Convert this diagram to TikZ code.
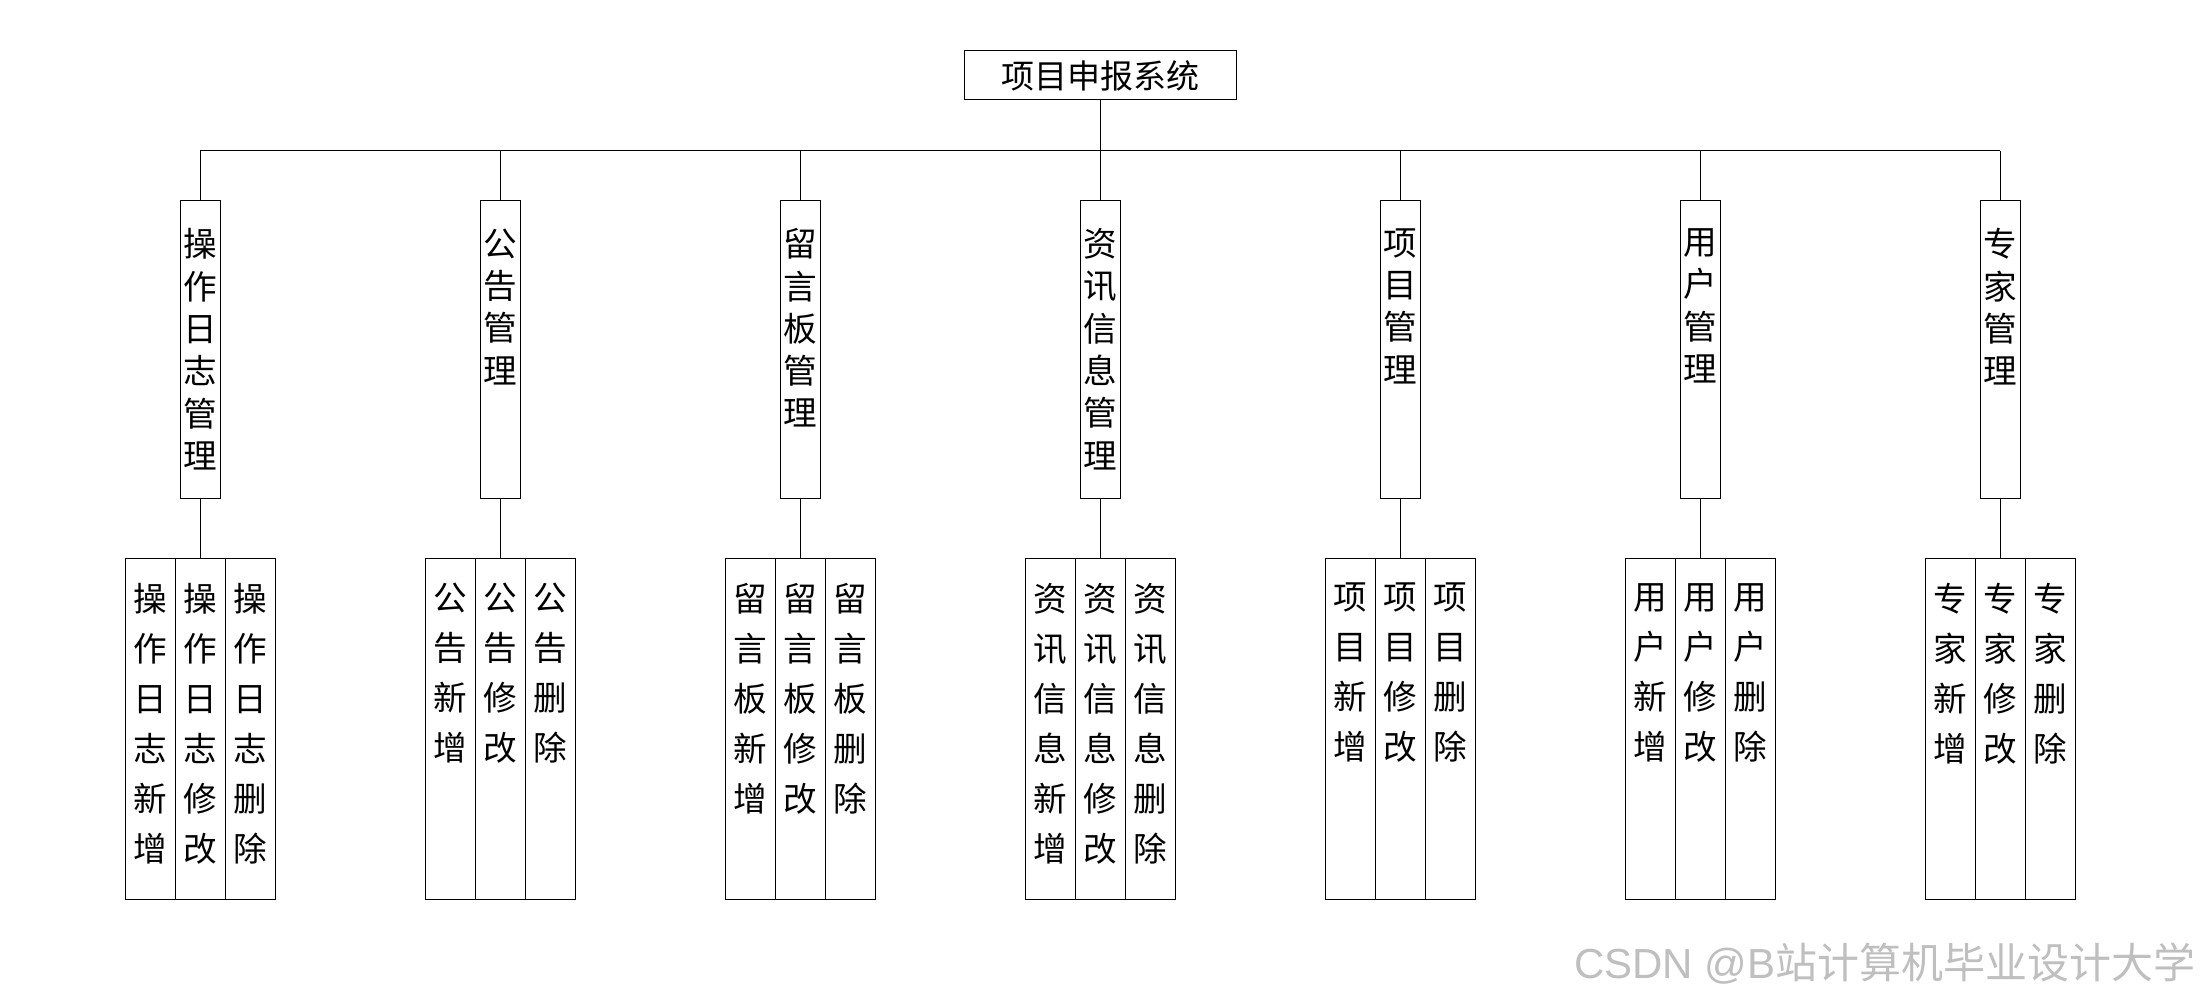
\documentclass[tikz,border=0pt]{standalone}
\usepackage{fontspec}
\setmainfont{Liberation Sans}
\newfontfamily\cjk{Noto Sans CJK SC}
\newcommand\mycol[4]{%
  \coordinate (b#2) at (#1,150.7);
  \node[midbox] (m#2) at (#1,349.3) {};
  \node[midtxt] (mt#2) at ([yshift=-14.2pt]m#2.north) {#3};
  \node[cell] (c#2a) at ({#1-50},728.8) {};
  \node[cell] (c#2b) at (#1,728.8) {};
  \node[cell] (c#2c) at ({#1+50},728.8) {};
  \node[celltxt] at ([yshift=-12.5pt]c#2a.north) {#4\\新\\增};
  \node[celltxt] at ([yshift=-12.5pt]c#2b.north) {#4\\修\\改};
  \node[celltxt] at ([yshift=-12.5pt]c#2c.north) {#4\\删\\除};
  \draw[conn] (b#2) -- (m#2.north);
  \draw[conn] (m#2.south) -- (c#2b.north);
}
\begin{document}
\begin{tikzpicture}[x=0.5pt,y=-0.5pt,
  conn/.style={line width=0.5pt},
  titlebox/.style={draw, line width=0.5pt, inner sep=0, minimum width=136pt, minimum height=24.5pt, font=\cjk\fontsize{16.5pt}{20pt}\selectfont},
  midbox/.style={draw, line width=0.5pt, inner sep=0, minimum width=20pt, minimum height=149pt},
  cell/.style={draw, line width=0.5pt, inner sep=0, minimum width=25pt, minimum height=170.5pt},
  midtxt/.style={anchor=north, inner sep=0, align=center, font=\cjk\fontsize{16.8pt}{21.15pt}\selectfont},
  celltxt/.style={anchor=north, inner sep=0, align=center, font=\cjk\fontsize{16.8pt}{25pt}\selectfont},
]
\useasboundingbox[fill=white] (0,0) rectangle (2200,1000);
\node[titlebox] (root) at (1100,75.5) {项目申报系统};
\mycol{200}{1}{操\\作\\日\\志\\管\\理}{操\\作\\日\\志}
\mycol{500}{2}{公\\告\\管\\理}{公\\告}
\mycol{800}{3}{留\\言\\板\\管\\理}{留\\言\\板}
\mycol{1100}{4}{资\\讯\\信\\息\\管\\理}{资\\讯\\信\\息}
\mycol{1400}{5}{项\\目\\管\\理}{项\\目}
\mycol{1700}{6}{用\\户\\管\\理}{用\\户}
\mycol{2000}{7}{专\\家\\管\\理}{专\\家}
\draw[conn] (b1) -- (b7);
\draw[conn] (root.south) -- (b4);
\node[anchor=east, inner sep=0, text=black!25, font=\fontsize{21pt}{24pt}\selectfont] (wm) at (2196,964) {CSDN @B{\cjk 站计算机毕业设计大学}};
\end{tikzpicture}
\end{document}
